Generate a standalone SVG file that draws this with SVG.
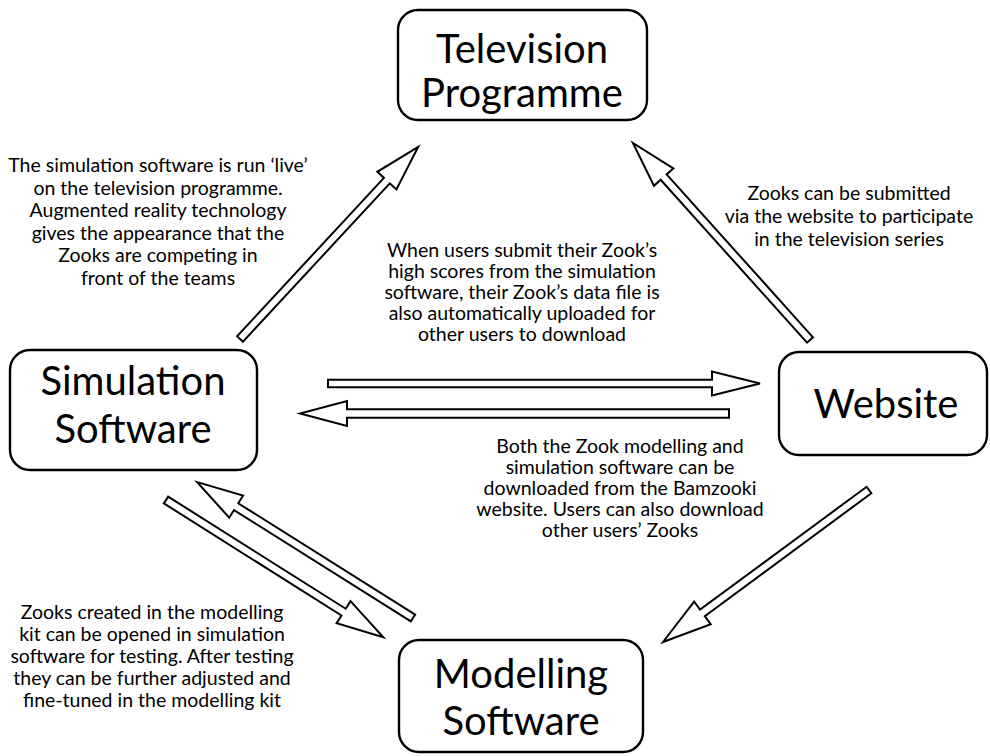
<svg xmlns="http://www.w3.org/2000/svg" width="990" height="756" viewBox="0 0 990 756">
  <style>
    .box { fill: #fff; stroke: #000; stroke-width: 2.4; }
    .title { font-family: Lato, "Liberation Sans", sans-serif; font-size: 40px; fill: #000; text-anchor: middle; }
    .note { font-family: Lato, "Liberation Sans", sans-serif; font-size: 19.5px; fill: #000; text-anchor: middle; }
    .arrow { fill: #fff; stroke: #000; stroke-width: 2; stroke-linejoin: miter; }
  </style>
  <rect width="990" height="756" fill="#fff"/>

  <!-- block arrows: each drawn along +x from its tail, then placed and turned -->
  <g id="connectors">
    <path class="arrow" transform="translate(240 339) rotate(-47.16)" d="M0,-4 H216 V-13 L262,0 L216,13 V4 H0 Z"/>
    <path class="arrow" transform="translate(810 340) rotate(-131.94)" d="M0,-4 H219 V-13 L265,0 L219,13 V4 H0 Z"/>
    <path class="arrow" transform="translate(328 383.5) rotate(0)" d="M0,-3.8 H384 V-12 L432,0 L384,12 V3.8 H0 Z"/>
    <path class="arrow" transform="translate(729 413.5) rotate(180)" d="M0,-4.2 H382 V-12.5 L429,0 L382,12.5 V4.2 H0 Z"/>
    <path class="arrow" transform="translate(166 500) rotate(32.27)" d="M0,-4 H210 V-13 L257,0 L210,13 V4 H0 Z"/>
    <path class="arrow" transform="translate(413 618) rotate(-147.81)" d="M0,-4 H209 V-13 L255,0 L209,13 V4 H0 Z"/>
    <path class="arrow" transform="translate(869 490) rotate(143.58)" d="M0,-4 H207 V-14 L256,0 L207,14 V4 H0 Z"/>
  </g>

  <g id="television">
    <rect class="box" x="398" y="10" width="249" height="110" rx="20"/>
    <text class="title" x="522" y="63">Television</text>
    <text class="title" x="522" y="107">Programme</text>
  </g>

  <g id="simulation">
    <rect class="box" x="10" y="350" width="247" height="120" rx="20"/>
    <text class="title" x="133" y="395">Simulation</text>
    <text class="title" x="133" y="443">Software</text>
  </g>

  <g id="website">
    <rect class="box" x="779" y="352" width="208" height="103" rx="20"/>
    <text class="title" x="886" y="418">Website</text>
  </g>

  <g id="modelling">
    <rect class="box" x="399" y="640" width="244" height="112" rx="20"/>
    <text class="title" x="521" y="688">Modelling</text>
    <text class="title" x="521" y="735">Software</text>
  </g>

  <g id="note-live">
    <text class="note" x="158" y="172">The simulation software is run ‘live’</text>
    <text class="note" x="158" y="194.5">on the television programme.</text>
    <text class="note" x="158" y="217">Augmented reality technology</text>
    <text class="note" x="158" y="239.5">gives the appearance that the</text>
    <text class="note" x="158" y="262">Zooks are competing in</text>
    <text class="note" x="158" y="284.5">front of the teams</text>
  </g>

  <g id="note-submit">
    <text class="note" x="849" y="200">Zooks can be submitted</text>
    <text class="note" x="849" y="223">via the website to participate</text>
    <text class="note" x="849" y="246">in the television series</text>
  </g>

  <g id="note-upload">
    <text class="note" x="522" y="257">When users submit their Zook’s</text>
    <text class="note" x="522" y="278">high scores from the simulation</text>
    <text class="note" x="522" y="299">software, their Zook’s data file is</text>
    <text class="note" x="522" y="320">also automatically uploaded for</text>
    <text class="note" x="522" y="341">other users to download</text>
  </g>

  <g id="note-download">
    <text class="note" x="620" y="453">Both the Zook modelling and</text>
    <text class="note" x="620" y="474">simulation software can be</text>
    <text class="note" x="620" y="495">downloaded from the Bamzooki</text>
    <text class="note" x="620" y="516">website. Users can also download</text>
    <text class="note" x="620" y="537">other users’ Zooks</text>
  </g>

  <g id="note-testing">
    <text class="note" x="152" y="619">Zooks created in the modelling</text>
    <text class="note" x="152" y="641">kit can be opened in simulation</text>
    <text class="note" x="152" y="663">software for testing. After testing</text>
    <text class="note" x="152" y="685">they can be further adjusted and</text>
    <text class="note" x="152" y="707">fine-tuned in the modelling kit</text>
  </g>
</svg>
